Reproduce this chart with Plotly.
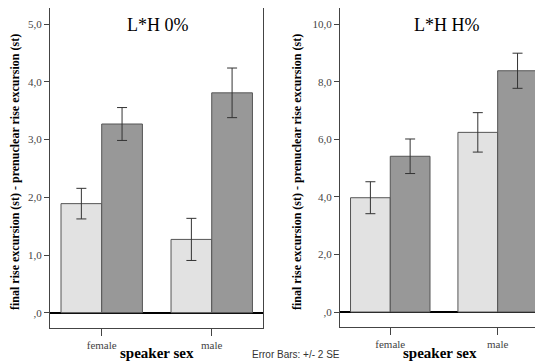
import plotly.graph_objects as go

categories = ["female", "male"]

left_light = [1.89, 1.27]
left_light_err = [0.265, 0.365]
left_dark = [3.27, 3.81]
left_dark_err = [0.285, 0.43]

right_light = [3.97, 6.24]
right_light_err = [0.555, 0.685]
right_dark = [5.41, 8.38]
right_dark_err = [0.60, 0.61]

left_ticks = [0, 1, 2, 3, 4, 5]
left_ticktext = [",0", "1,0", "2,0", "3,0", "4,0", "5,0"]
right_ticks = [0, 2, 4, 6, 8, 10]
right_ticktext = [",0", "2,0", "4,0", "6,0", "8,0", "10,0"]

OFF = 8  # page body margin
W, H = 543 - OFF, 362 - OFF
LIGHT = "#e2e2e2"
DARK = "#989898"
EDGE = "#555555"
ERR = "#333333"
SERIF = "Times New Roman, Liberation Serif, DejaVu Serif, serif"

fig = go.Figure()

def add_bars(vals, errs, color, xa, ya):
    fig.add_trace(go.Bar(
        x=categories, y=vals, xaxis=xa, yaxis=ya,
        marker=dict(color=color, line=dict(color=EDGE, width=1)),
        error_y=dict(type="data", array=errs, visible=True, color=ERR, thickness=1, width=5),
        showlegend=False, hoverinfo="skip"))

add_bars(left_light, left_light_err, LIGHT, "x", "y")
add_bars(left_dark, left_dark_err, DARK, "x", "y")
add_bars(right_light, right_light_err, LIGHT, "x2", "y2")
add_bars(right_dark, right_dark_err, DARK, "x2", "y2")

def px_x(p):
    return (p - OFF) / W

def px_y(p):
    return 1 - (p - OFF) / H

axis_common = dict(showgrid=False, linecolor="#444444", linewidth=1, ticks="outside",
                   automargin=False, tickcolor="#444444",
                   tickfont=dict(family=SERIF, size=11, color="#444444"))

fig.update_layout(
    width=W, height=H,
    font=dict(family=SERIF),
    margin=dict(l=0, r=0, t=0, b=0, autoexpand=False),
    paper_bgcolor="white", plot_bgcolor="white",
    barmode="group", bargap=0.26, bargroupgap=0,
    xaxis=dict(domain=[px_x(50), px_x(263)], range=[-0.47, 1.466], anchor="y",
               showline=True, mirror=True, ticklen=7, **axis_common),
    yaxis=dict(domain=[px_y(328), px_y(8)], range=[-0.265, 5.28], anchor="x",
               tickvals=left_ticks, ticktext=left_ticktext, showline=True, mirror=True,
               ticklen=5, zeroline=True, zerolinecolor="black", zerolinewidth=2, **axis_common),
    xaxis2=dict(domain=[px_x(340), 1.0], range=[-0.468, 1.422], anchor="y2",
                showline=True, mirror=True, ticklen=7, **axis_common),
    yaxis2=dict(domain=[px_y(326.7), px_y(8)], range=[-0.51, 10.56], anchor="x2",
                tickvals=right_ticks, ticktext=right_ticktext, showline=True, mirror=False,
                ticklen=5, zeroline=True, zerolinecolor="black", zerolinewidth=2, **axis_common),
)

ytitle = "final rise excursion (st) - prenuclear rise excursion (st)"

def note(x, y, text, size, family=SERIF, color="black", angle=0):
    return dict(x=px_x(x), y=px_y(y), text=text, showarrow=False, xref="paper", yref="paper",
                xanchor="center", yanchor="middle", textangle=angle,
                font=dict(family=family, size=size, color=color))

ann = [
    note(158, 25, "L*H 0%", 18),
    note(447, 25, "L*H H%", 18),
    note(15, 172, "<b>" + ytitle + "</b>", 12, angle=-90),
    note(297, 172, "<b>" + ytitle + "</b>", 12, angle=-90),
    note(157, 353, "<b>speaker sex</b>", 15),
    note(440, 353, "<b>speaker sex</b>", 15),
    note(296, 354, "Error Bars: +/- 2 SE", 10, family="Liberation Sans, Arial, sans-serif", color="#333333"),
]
fig.update_layout(annotations=ann)

fig.write_html("out.html")
